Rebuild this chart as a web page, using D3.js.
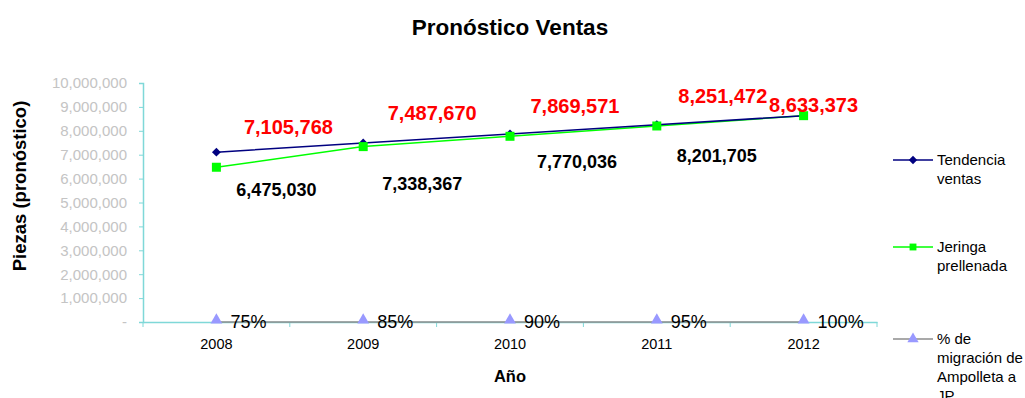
<!DOCTYPE html>
<html>
<head>
<meta charset="utf-8">
<script src="https://cdn.jsdelivr.net/npm/d3@7"></script>
<style>
  html, body { margin: 0; padding: 0; background: #fff; }
  svg { display: block; font-family: "Liberation Sans", Arial, sans-serif; }
</style>
</head>
<body>
<svg id="chart" width="1025" height="398"></svg>
<script>
// Años del pronóstico
const years = ["2008", "2009", "2010", "2011", "2012"];
// Tendencia de ventas (piezas)
const tendencia = [7105768, 7487670, 7869571, 8251472, 8633373];
// Jeringa prellenada (piezas)
const jeringa = [6475030, 7338367, 7770036, 8201705, 8633373];
// % de migración de Ampolleta a JP
const migracion = [0.75, 0.85, 0.90, 0.95, 1.00];
// Marcas del eje Y
const yTicks = [0, 1e6, 2e6, 3e6, 4e6, 5e6, 6e6, 7e6, 8e6, 9e6, 10e6];

// Desplazamiento de las etiquetas de datos (px)
const redLabelNudge = [[72, -25], [69, -30], [65, -28], [66, -29], [10, -11]];
const blackLabelNudge = [[60, 23], [59, 37], [67, 26], [60, 30], null];

const svg = d3.select("#chart");
const axisColor = "#7fd8d8";

const x = d3.scaleBand().domain(years).range([143, 877]).padding(0);
const y = d3.scaleLinear().domain([0, 10e6]).range([322, 83]);
const cx = d => x(d) + x.bandwidth() / 2;

// Título
svg.append("text").attr("x", 510).attr("y", 35).attr("text-anchor", "middle")
  .style("font-weight", "bold").style("font-size", "22.5px").text("Pronóstico Ventas");

// Eje Y
const yAxis = svg.append("g").attr("transform", "translate(143,0)")
  .call(d3.axisLeft(y).tickValues(yTicks).tickSize(4).tickPadding(12)
    .tickFormat(d => d === 0 ? "-" : d3.format(",")(d)));
yAxis.select(".domain").attr("stroke", axisColor).attr("stroke-width", 1.5);
yAxis.selectAll(".tick line").attr("stroke", axisColor);
yAxis.selectAll(".tick text").attr("fill", "#c4c4c4").style("font-size", "15px")
  .style("font-family", "'Liberation Sans', Arial, sans-serif");

// Eje X
const xAxis = svg.append("g").attr("transform", "translate(0,322)")
  .call(d3.axisBottom(x).tickSize(0).tickPadding(17));
xAxis.select(".domain").attr("stroke", axisColor).attr("stroke-width", 1.5);
xAxis.selectAll(".tick text").attr("fill", "#000").style("font-size", "14.5px")
  .style("font-family", "'Liberation Sans', Arial, sans-serif");
// marcas entre categorías
const bounds = years.map(d => x(d)).concat([x(years[years.length - 1]) + x.bandwidth()]);
svg.append("g").selectAll("line").data(bounds).join("line")
  .attr("x1", d => d).attr("x2", d => d).attr("y1", 322).attr("y2", 327)
  .attr("stroke", axisColor).attr("stroke-width", 1);

// Títulos de ejes
svg.append("text").attr("transform", "translate(26,186) rotate(-90)")
  .attr("text-anchor", "middle").style("font-weight", "bold").style("font-size", "18.5px")
  .text("Piezas (pronóstico)");
svg.append("text").attr("x", 510).attr("y", 382).attr("text-anchor", "middle")
  .style("font-weight", "bold").style("font-size", "16.5px").text("Año");

const line = d3.line().x((d, i) => cx(years[i])).y(d => y(d));

// Serie % de migración (sobre el eje)
svg.append("path").datum(migracion).attr("d", line).attr("fill", "none")
  .attr("stroke", "#8c8c8c").attr("stroke-width", 1.5);
svg.append("g").selectAll("path").data(migracion).join("path")
  .attr("transform", (d, i) => `translate(${cx(years[i])},${y(d) - 2})`)
  .attr("d", d3.symbol(d3.symbolTriangle, 60)).attr("fill", "#9999ff");
svg.append("g").selectAll("text").data(migracion).join("text")
  .attr("x", (d, i) => cx(years[i]) + 14).attr("y", (d) => y(d) + 6)
  .style("font-size", "18px").text(d => d3.format(".0%")(d));

// Serie jeringa prellenada
svg.append("path").datum(jeringa).attr("d", line).attr("fill", "none")
  .attr("stroke", "#00ff00").attr("stroke-width", 1.5);

// Serie tendencia ventas
svg.append("path").datum(tendencia).attr("d", line).attr("fill", "none")
  .attr("stroke", "#000080").attr("stroke-width", 1.5);
svg.append("g").selectAll("path").data(tendencia).join("path")
  .attr("transform", (d, i) => `translate(${cx(years[i])},${y(d)})`)
  .attr("d", d3.symbol(d3.symbolDiamond2, 50)).attr("fill", "#000080");

svg.append("g").selectAll("rect").data(jeringa).join("rect")
  .attr("x", (d, i) => cx(years[i]) - 4.5).attr("y", d => y(d) - 4.5)
  .attr("width", 9).attr("height", 9).attr("fill", "#00ff00");

// Etiquetas de datos
svg.append("g").selectAll("text").data(tendencia).join("text")
  .attr("x", (d, i) => cx(years[i]) + redLabelNudge[i][0])
  .attr("y", (d, i) => y(d) + redLabelNudge[i][1] + 7)
  .attr("text-anchor", "middle").attr("fill", "#ff0000")
  .style("font-weight", "bold").style("font-size", "20px").text(d => d3.format(",")(d));

svg.append("g").selectAll("text").data(jeringa.filter((d, i) => blackLabelNudge[i])).join("text")
  .attr("x", (d, i) => cx(years[i]) + blackLabelNudge[i][0])
  .attr("y", (d, i) => y(d) + blackLabelNudge[i][1] + 6)
  .attr("text-anchor", "middle").attr("fill", "#000")
  .style("font-weight", "bold").style("font-size", "18px").text(d => d3.format(",")(d));

// Leyenda
const legend = [
  { name: ["Tendencia", "ventas"], color: "#000080", y: 160, mark: "diamond" },
  { name: ["Jeringa", "prellenada"], color: "#00ff00", y: 247, mark: "square" },
  { name: ["% de", "migración de", "Ampolleta a", "JP"], color: "#9999ff", line: "#8c8c8c", y: 339, mark: "triangle" }
];
const lg = svg.append("g").selectAll("g").data(legend).join("g");
lg.append("line").attr("x1", 893).attr("x2", 933).attr("y1", d => d.y).attr("y2", d => d.y)
  .attr("stroke", d => d.line || d.color).attr("stroke-width", 1.5);
lg.append("path").attr("transform", d => `translate(913,${d.y})`)
  .attr("d", d => d.mark === "diamond" ? d3.symbol(d3.symbolDiamond2, 45)()
    : d.mark === "square" ? d3.symbol(d3.symbolSquare2, 60)()
    : d3.symbol(d3.symbolTriangle, 55)())
  .attr("fill", d => d.color);
lg.each(function (d) {
  const t = d3.select(this).append("text").attr("x", 937).attr("y", d.y + 5)
    .style("font-size", "15px");
  t.selectAll("tspan").data(d.name).join("tspan")
    .attr("x", 937).attr("dy", (s, i) => i === 0 ? 0 : 19).text(s => s);
});
</script>
</body>
</html>
